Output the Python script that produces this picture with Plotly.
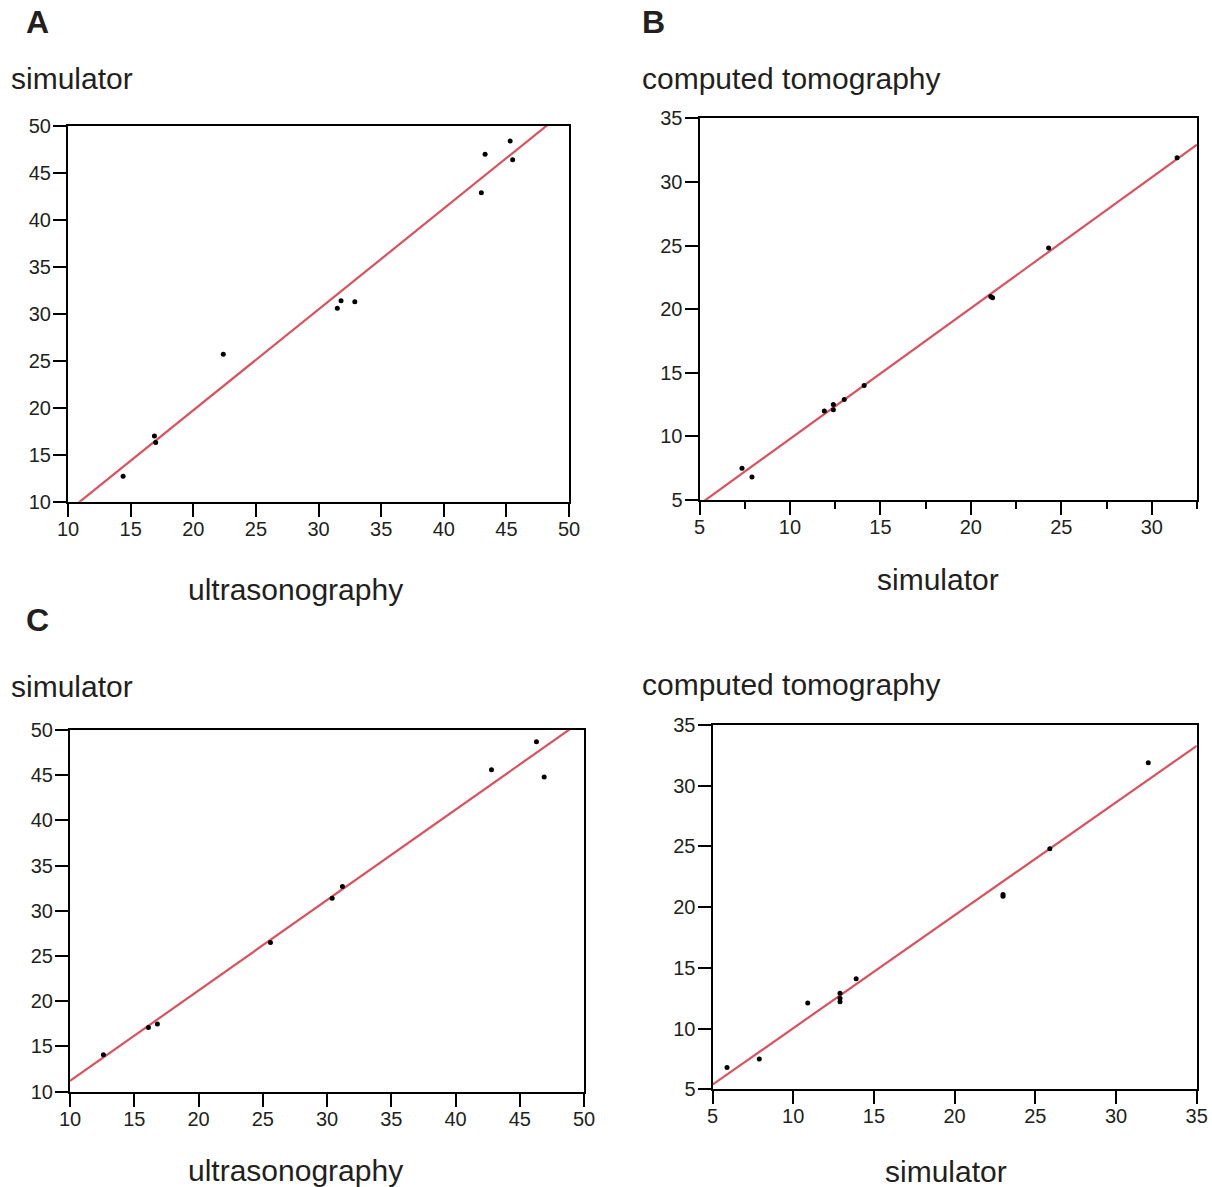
import plotly.graph_objects as go
import numpy as np

# ---------------- data ----------------
# Panel A: ultrasonography (x) vs simulator (y)
a_x = [14.4, 16.9, 17.0, 22.4, 31.5, 31.8, 32.9, 43.0, 43.3, 45.3, 45.5]
a_y = [12.7, 17.0, 16.3, 25.7, 30.6, 31.4, 31.3, 42.9, 47.0, 48.4, 46.4]
a_fit = [1.074, -1.75]   # slope, intercept

# Panel B: simulator (x) vs computed tomography (y)
b_x = [7.35, 7.9, 11.9, 12.4, 12.4, 13.0, 14.1, 21.1, 21.2, 24.3, 31.4]
b_y = [7.5, 6.8, 12.0, 12.5, 12.1, 12.9, 14.0, 21.0, 20.9, 24.8, 31.9]
b_fit = [1.028, -0.48]

# Panel C: ultrasonography (x) vs simulator (y)
c_x = [12.6, 16.1, 16.8, 25.6, 30.4, 31.2, 42.8, 46.3, 46.9]
c_y = [14.1, 17.1, 17.5, 26.5, 31.4, 32.7, 45.6, 48.7, 44.8]
c_fit = [1.0, 1.19]

# Panel D: simulator (x) vs computed tomography (y)
d_x = [5.9, 7.9, 10.9, 12.9, 12.9, 12.9, 13.9, 23.0, 23.0, 25.9, 32.0]
d_y = [6.8, 7.5, 12.1, 12.9, 12.5, 12.2, 14.1, 21.05, 20.9, 24.8, 31.9]
d_fit = [0.93, 0.73]

ticks_us = [10, 15, 20, 25, 30, 35, 40, 45, 50]
ticks_ct = [5, 10, 15, 20, 25, 30, 35]
ticks_b_x = [5, 10, 15, 20, 25, 30]

# ---------------- layout helpers ----------------
W, H = 1212, 1187
FONT = "Liberation Sans, Arial, Helvetica, sans-serif"
TXT = "#231f20"
RED = "#d9525e"

def dx(px0, px1):
    return [px0 / W, px1 / W]

def dy(top, bottom):
    return [1 - bottom / H, 1 - top / H]

fig = go.Figure()

panels = [
    (a_x, a_y, a_fit, "x", "y", [10, 50], [10, 50], dx(68, 569), dy(126, 501.7), ticks_us, ticks_us, False),
    (b_x, b_y, b_fit, "x2", "y2", [5, 32.5], [5, 35], dx(699.5, 1197), dy(118.3, 500), ticks_b_x, ticks_ct, True),
    (c_x, c_y, c_fit, "x3", "y3", [10, 50], [10, 50], dx(70, 584), dy(730, 1091.7), ticks_us, ticks_us, False),
    (d_x, d_y, d_fit, "x4", "y4", [5, 35], [5, 35], dx(712.5, 1196.7), dy(725, 1089.3), ticks_ct, ticks_ct, False),
]

for i, (xs, ys, fit, xa, ya, xr, yr, xd, yd, xt, yt, minor) in enumerate(panels):
    lx = np.array(xr, dtype=float)
    ly = fit[0] * lx + fit[1]
    fig.add_trace(go.Scatter(x=lx, y=ly, mode="lines", xaxis=xa, yaxis=ya,
                             line=dict(color=RED, width=2.2), showlegend=False,
                             hoverinfo="skip"))
    fig.add_trace(go.Scatter(x=xs, y=ys, mode="markers", xaxis=xa, yaxis=ya,
                             marker=dict(color="black", size=5), showlegend=False))
    sfx = "" if i == 0 else str(i + 1)
    axis_common = dict(showgrid=False, zeroline=False, showline=True, linecolor="black",
                       linewidth=2, mirror=True, ticks="outside", ticklen=13, tickwidth=2,
                       tickcolor="black", tickfont=dict(family=FONT, size=20, color=TXT),
                       tickmode="array", fixedrange=True, automargin=False)
    xaxis = dict(axis_common, domain=xd, range=xr, tickvals=xt, anchor="y" + sfx,
                 ticklabelstandoff=-5)
    if minor:
        xaxis["minor"] = dict(ticks="outside", ticklen=7, tickwidth=2, tickcolor="black",
                              tick0=5, dtick=2.5, showgrid=False)
    yaxis = dict(axis_common, domain=yd, range=yr, tickvals=yt, anchor="x" + sfx,
                 ticklabelstandoff=-2)
    fig.layout["xaxis" + sfx] = xaxis
    fig.layout["yaxis" + sfx] = yaxis

def ann(text, px, py, size=30, xanchor="left", bold=False):
    t = f"<b>{text}</b>" if bold else text
    return dict(text=t, x=px / W, y=1 - py / H, xref="paper", yref="paper",
                xanchor=xanchor, yanchor="middle", showarrow=False,
                font=dict(family=FONT, size=size, color=TXT))

annotations = [
    ann("A", 24, 22, size=32, bold=True),
    ann("simulator", 9, 78),
    ann("ultrasonography", 295, 589, xanchor="center"),
    ann("B", 640, 22, size=32, bold=True),
    ann("computed tomography", 640, 78),
    ann("simulator", 938, 580, xanchor="center"),
    ann("C", 24, 620, size=32, bold=True),
    ann("simulator", 9, 686),
    ann("ultrasonography", 295, 1170, xanchor="center"),
    ann("computed tomography", 640, 684),
    ann("simulator", 946, 1171, xanchor="center"),
]

fig.update_layout(width=W, height=H, margin=dict(l=0, r=0, t=0, b=0, autoexpand=False),
                  paper_bgcolor="white", plot_bgcolor="white",
                  annotations=annotations, showlegend=False)

fig.write_html("out.html", config={"displayModeBar": False},
               post_script="document.body.style.margin='0px';document.body.style.overflow='hidden';")
